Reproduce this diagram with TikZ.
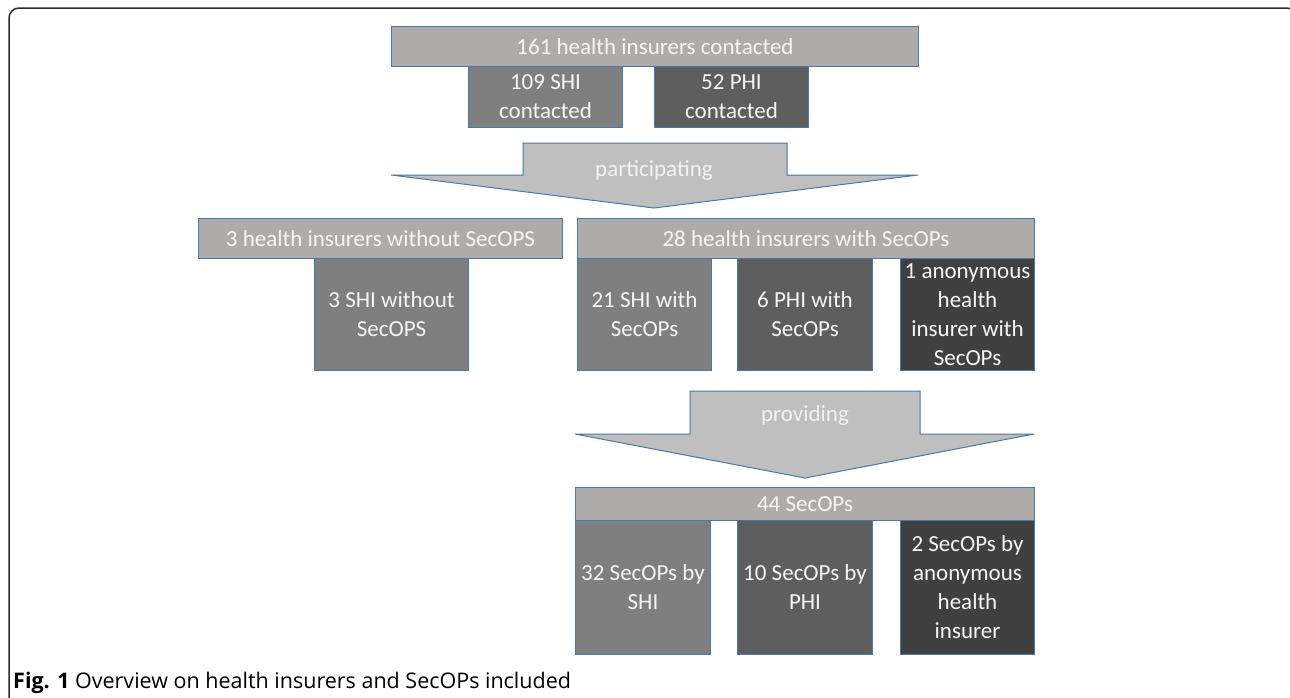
\documentclass[tikz,border=0pt]{standalone}
\usepackage{fontspec}
\setmainfont{Carlito}
\newfontfamily\captionfont{Open Sans}
\usetikzlibrary{positioning}
\definecolor{hdrgray}{HTML}{AEABAB}
\definecolor{shigray}{HTML}{7F7F7F}
\definecolor{phigray}{HTML}{5E5E5E}
\definecolor{anongray}{HTML}{404040}
\definecolor{arrowgray}{HTML}{BFBFBF}
\definecolor{edgeblue}{HTML}{4A78A8}
\definecolor{framegray}{HTML}{2B2B2B}

\tikzset{
  box/.style={draw=edgeblue,line width=1pt,text=white!96!black,align=center,
    inner sep=0pt,anchor=north west,font=\fontsize{23}{29}\selectfont},
  flowarrow/.style={draw=edgeblue,line width=1pt,fill=arrowgray},
  flowlabel/.style={text=white!95!black,font=\fontsize{23}{29}\selectfont},
}

\begin{document}
\begin{tikzpicture}[x=1pt,y=-1pt]
  \useasboundingbox (0,0) rectangle (1290,697);
  % outer frame of the figure
  \draw[framegray,line width=1.5pt,rounded corners=10pt]
    (9,710) -- (9,8) -- (1297,8) -- (1297,710);

  % contacted
  \node[box,fill=shigray,minimum width=154pt,minimum height=61pt] (shicont) at (468,66) {109 SHI\\contacted};
  \node[box,fill=phigray,minimum width=154pt,minimum height=61pt] (phicont) at (654,66) {52 PHI\\contacted};
  \node[box,fill=hdrgray,minimum width=527pt,minimum height=40pt] (contacted) at (391,26) {161 health insurers contacted};

  \draw[flowarrow] (523,143) -- (787,143) -- (787,175) -- (918,175)
    -- (654,208) -- (391,175) -- (523,175) -- cycle;
  \node[flowlabel] (participating) at (654,171) {participating};

  % participating, without SecOPS
  \node[box,fill=shigray,minimum width=154pt,minimum height=112pt] (shiwithout) at (314,258) {3 SHI without\\SecOPS};
  \node[box,fill=hdrgray,minimum width=364pt,minimum height=40pt] (without) at (198,218) {3 health insurers without SecOPS};

  % participating, with SecOPs
  \node[box,fill=shigray,minimum width=134pt,minimum height=112pt] (shiwith) at (577,258) {21 SHI with\\SecOPs};
  \node[box,fill=phigray,minimum width=135pt,minimum height=112pt] (phiwith) at (737,258) {6 PHI with\\SecOPs};
  \node[box,fill=anongray,minimum width=134pt,minimum height=112pt] (anonwith) at (900,258) {1 anonymous\\health\\insurer with\\SecOPs};
  \node[box,fill=hdrgray,minimum width=457pt,minimum height=40pt] (with) at (577,218) {28 health insurers with SecOPs};

  \draw[flowarrow] (690,391) -- (920,391) -- (920,434) -- (1034,434)
    -- (805,478) -- (575,434) -- (690,434) -- cycle;
  \node[flowlabel] (providing) at (805,415) {providing};

  % SecOPs provided
  \node[box,fill=shigray,minimum width=135pt,minimum height=134pt] (shisecops) at (575,520) {32 SecOPs by\\SHI};
  \node[box,fill=phigray,minimum width=135pt,minimum height=134pt] (phisecops) at (737,520) {10 SecOPs by\\PHI};
  \node[box,fill=anongray,minimum width=134pt,minimum height=134pt] (anonsecops) at (900,520) {2 SecOPs by\\anonymous\\health\\insurer};
  \node[box,fill=hdrgray,minimum width=459pt,minimum height=33pt] (secops) at (575,487) {44 SecOPs};

  % caption
  \node[anchor=west,inner sep=0pt,font=\captionfont\fontsize{21.5}{25}\selectfont] (caption) at (13,683)
    {\textbf{Fig. 1} Overview on health insurers and SecOPs included};
\end{tikzpicture}
\end{document}
